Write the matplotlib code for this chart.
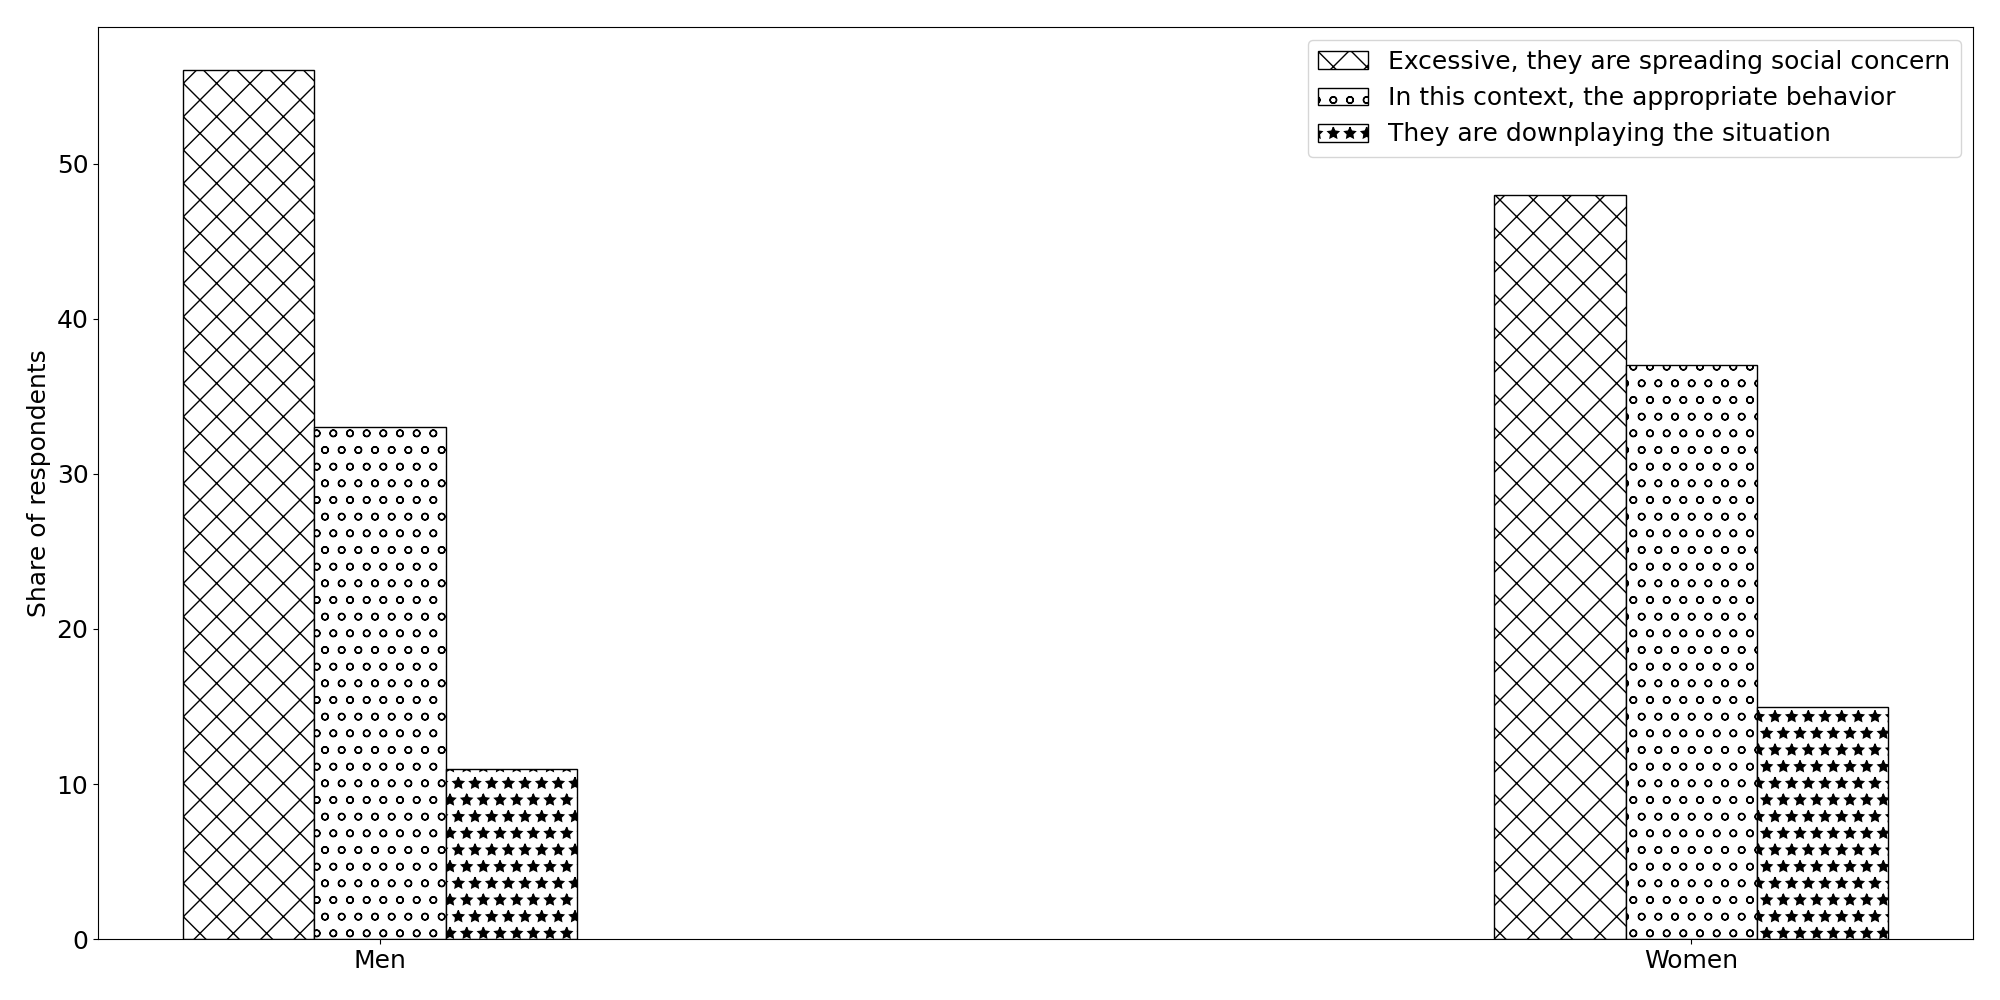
import matplotlib
matplotlib.use("Agg")
import matplotlib.pyplot as plt
import numpy as np

categories = ["Men", "Women"]
series_names = [
    "Excessive, they are spreading social concern",
    "In this context, the appropriate behavior",
    "They are downplaying the situation",
]
excessive = [56, 48]
appropriate = [33, 37]
downplaying = [11, 15]

plt.rcParams['font.size'] = 18
fig, ax = plt.subplots(figsize=(20, 10), dpi=100)
x = np.arange(len(categories))
w = 0.1
hatches = ['x', 'o', '*']
for i, (vals, name) in enumerate(zip([excessive, appropriate, downplaying], series_names)):
    ax.bar(x + (i - 1) * w, vals, w, label=name, color='white', edgecolor='black', hatch=hatches[i])
ax.set_xticks(x)
ax.set_xticklabels(categories)
ax.set_ylabel("Share of respondents")
ax.legend(loc='upper right')
fig.tight_layout()
fig.savefig("out.png")
